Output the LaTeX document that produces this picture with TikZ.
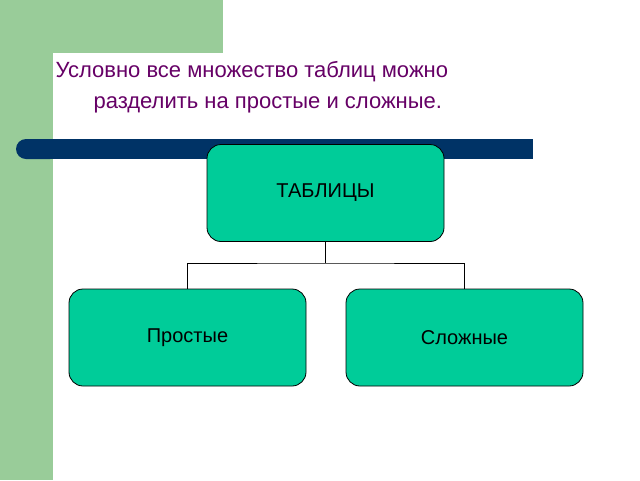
\documentclass[tikz,border=0pt]{standalone}
\usepackage{fontspec}
\setmainfont{Liberation Sans}
\definecolor{sidegreen}{HTML}{99CC99}
\definecolor{barblue}{HTML}{003366}
\definecolor{boxgreen}{HTML}{00CC99}
\definecolor{titlepurple}{HTML}{660066}
\tikzset{
  box/.style={draw=black, fill=boxgreen, rounded corners=14pt, minimum width=237pt, minimum height=97pt, font=\fontsize{20}{24}\selectfont, thick},
  link/.style={draw=black, thick}
}
\begin{document}
\begin{tikzpicture}[x=1pt,y=-1pt]
	% Background
	\useasboundingbox (0,0) rectangle (640,480);
	\fill[white] (0,0) rectangle (640,480);
	\fill[sidegreen] (0,0) rectangle (223,53);
	\fill[sidegreen] (0,0) rectangle (53,480);
	\fill[white,rounded corners=12pt] (53,53) rectangle (700,520);
	\fill[white] (80,53) rectangle (640,480);
	\fill[white] (53,80) rectangle (640,480);
	\fill[barblue,rounded corners=10pt] (16,139) rectangle (60,159);
	\fill[barblue] (40,139) rectangle (533,159);
	
	% Title
	\node[anchor=north west, align=left, text=titlepurple, font=\fontsize{22}{31}\selectfont] (title) at (52,58)
		{Условно все множество таблиц можно\\\hspace*{38pt}разделить на простые и сложные.};
	
	% Boxes
	\node[box] (tables) at (325.5,193) {ТАБЛИЦЫ};
	\node[box] (simple) at (187.5,337.5) {Простые};
	\node[box] (complex) at (464.5,337.5) {Сложные};
	
	% Connectors
	\coordinate (fork) at (325.5,263);
	\draw[link] (tables.south) -- (fork);
	\draw[link] (simple.north) |- (fork) -| (complex.north);
\end{tikzpicture}
\end{document}
